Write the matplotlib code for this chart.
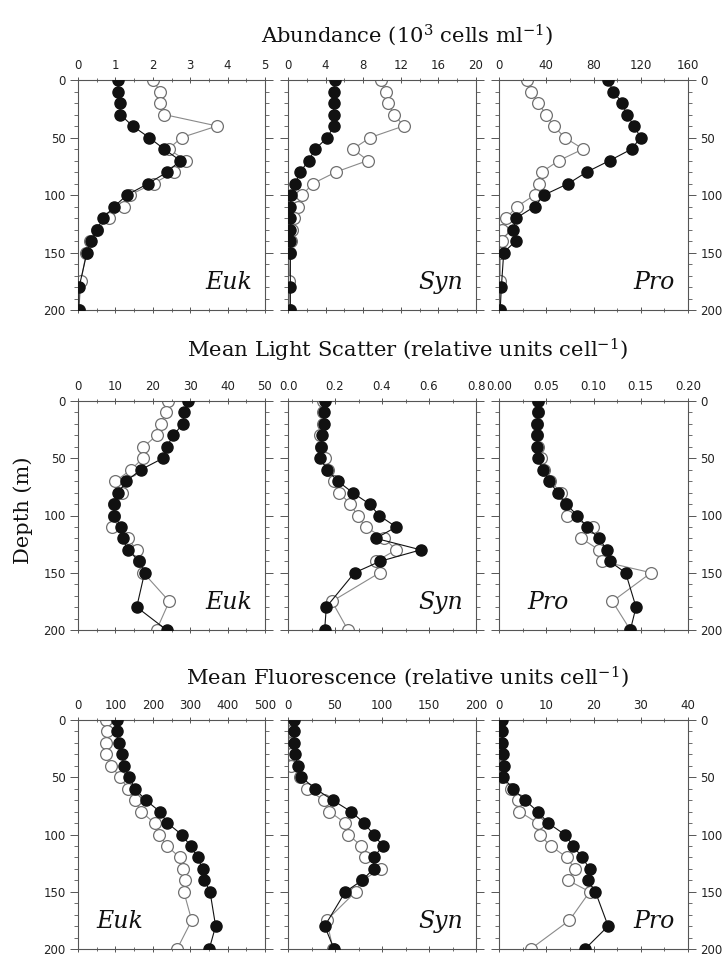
import numpy as np
import matplotlib
matplotlib.use("Agg")
import matplotlib.pyplot as plt
from matplotlib.ticker import MultipleLocator

plt.rcParams["mathtext.fontset"] = "dejavuserif"

# Sampling depths (m) for the two casts
depth_filled = [0, 10, 20, 30, 40, 50, 60, 70, 80, 90, 100, 110, 120, 130, 140, 150, 180, 200]
depth_open = [0, 10, 20, 30, 40, 50, 60, 70, 80, 90, 100, 110, 120, 130, 140, 150, 175, 200]

# Abundance (10^3 cells/ml)
abund_euk_filled = [1.06, 1.08, 1.13, 1.13, 1.46, 1.9, 2.3, 2.73, 2.39, 1.88, 1.31, 0.97, 0.67, 0.51, 0.35, 0.24, 0.03, 0.02]
abund_euk_open = [2.0, 2.2, 2.18, 2.3, 3.72, 2.77, 2.42, 2.88, 2.57, 2.02, 1.38, 1.24, 0.84, 0.5, 0.33, 0.22, 0.08, 0.02]
abund_syn_filled = [5.0, 4.86, 4.86, 4.86, 4.86, 4.2, 2.9, 2.2, 1.3, 0.78, 0.35, 0.25, 0.25, 0.25, 0.25, 0.25, 0.25, 0.25]
abund_syn_open = [9.93, 10.4, 10.6, 11.3, 12.3, 8.76, 6.9, 8.5, 5.1, 2.66, 1.5, 1.06, 0.67, 0.4, 0.3, 0.25, 0.15, 0.2]
abund_pro_filled = [92.4, 96.6, 104.5, 108, 114.4, 119.8, 112.4, 93.8, 74.3, 58.8, 38.1, 30.2, 14.7, 11.9, 14.1, 4, 2, 1]
abund_pro_open = [23.7, 27.4, 33, 40, 46.3, 55.6, 71.2, 50.8, 36.2, 33.8, 30.2, 15.3, 6.2, 2.8, 2.5, 1, 1, 0.5]

# Mean light scatter (relative units/cell)
scat_euk_filled = [29.5, 28.4, 28, 25.5, 23.7, 22.7, 16.8, 12.9, 10.8, 9.5, 9.7, 11.5, 11.9, 13.3, 16.4, 17.8, 15.7, 23.7]
scat_euk_open = [24, 23.6, 22.1, 21.1, 17.5, 17.3, 14.2, 10, 11.8, 9.6, 9.6, 9.2, 13.3, 15.7, 16.2, 17.5, 24.4, 21]
scat_syn_filled = [0.156, 0.152, 0.152, 0.144, 0.14, 0.137, 0.166, 0.212, 0.275, 0.347, 0.388, 0.46, 0.374, 0.565, 0.392, 0.283, 0.163, 0.156]
scat_syn_open = [0.15, 0.15, 0.15, 0.137, 0.14, 0.159, 0.169, 0.194, 0.218, 0.265, 0.296, 0.33, 0.41, 0.46, 0.375, 0.39, 0.187, 0.255]
scat_pro_filled = [0.0413, 0.0413, 0.040, 0.040, 0.0405, 0.041, 0.047, 0.053, 0.062, 0.071, 0.083, 0.093, 0.106, 0.114, 0.117, 0.134, 0.145, 0.139]
scat_pro_open = [0.041, 0.041, 0.040, 0.040, 0.041, 0.044, 0.048, 0.054, 0.066, 0.071, 0.072, 0.099, 0.087, 0.106, 0.109, 0.161, 0.12, 0.139]

# Mean fluorescence (relative units/cell)
fluo_euk_filled = [103, 103, 109, 118, 122, 137, 152, 181, 219, 239, 277, 301, 320, 333, 338, 353, 368, 351]
fluo_euk_open = [76, 78, 76, 76, 89, 112, 134, 152, 168, 205, 217, 238, 272, 281, 287, 283, 304, 265]
fluo_syn_filled = [6.7, 6.7, 6.7, 7.8, 10.3, 14.2, 29, 47.5, 67, 81, 91, 101, 91, 91, 79, 61, 39, 49]
fluo_syn_open = [2.5, 3, 3, 3, 3, 13, 20, 38, 44, 61, 64, 78, 82, 99, 79, 72, 41, 48]
fluo_pro_filled = [0.7, 0.7, 0.7, 0.9, 1.1, 0.9, 2.9, 5.5, 8.2, 10.4, 13.9, 15.7, 17.6, 19.2, 18.8, 20.4, 23.1, 18.2]
fluo_pro_open = [0.5, 0.5, 0.5, 0.6, 0.7, 0.6, 2.5, 4.1, 4.3, 8.2, 8.6, 10.9, 14.4, 16, 14.6, 19.2, 14.9, 6.7]

groups = ["Euk", "Syn", "Pro"]
depth_ticks = [0, 50, 100, 150, 200]

rows = [
    {
        "title": r"Abundance (10$^{3}$ cells ml$^{-1}$)",
        "filled": [abund_euk_filled, abund_syn_filled, abund_pro_filled],
        "open": [abund_euk_open, abund_syn_open, abund_pro_open],
        "xticks": [[0, 1, 2, 3, 4, 5], [0, 4, 8, 12, 16, 20], [0, 40, 80, 120, 160]],
        "xlabels": [["0", "1", "2", "3", "4", "5"], ["0", "4", "8", "12", "16", "20"],
                    ["0", "40", "80", "120", "160"]],
        "tag_pos": [(0.93, 0.07, "right"), (0.93, 0.07, "right"), (0.93, 0.07, "right")],
    },
    {
        "title": r"Mean Light Scatter (relative units cell$^{-1}$)",
        "filled": [scat_euk_filled, scat_syn_filled, scat_pro_filled],
        "open": [scat_euk_open, scat_syn_open, scat_pro_open],
        "xticks": [[0, 10, 20, 30, 40, 50], [0.0, 0.2, 0.4, 0.6, 0.8], [0.0, 0.05, 0.10, 0.15, 0.20]],
        "xlabels": [["0", "10", "20", "30", "40", "50"], ["0.0", "0.2", "0.4", "0.6", "0.8"],
                    ["0.00", "0.05", "0.10", "0.15", "0.20"]],
        "tag_pos": [(0.93, 0.07, "right"), (0.93, 0.07, "right"), (0.15, 0.07, "left")],
    },
    {
        "title": r"Mean Fluorescence (relative units cell$^{-1}$)",
        "filled": [fluo_euk_filled, fluo_syn_filled, fluo_pro_filled],
        "open": [fluo_euk_open, fluo_syn_open, fluo_pro_open],
        "xticks": [[0, 100, 200, 300, 400, 500], [0, 50, 100, 150, 200], [0, 10, 20, 30, 40]],
        "xlabels": [["0", "100", "200", "300", "400", "500"], ["0", "50", "100", "150", "200"],
                    ["0", "10", "20", "30", "40"]],
        "tag_pos": [(0.10, 0.07, "left"), (0.93, 0.07, "right"), (0.93, 0.07, "right")],
    },
]

W, H = 727, 958
fig = plt.figure(figsize=(W / 100, H / 100), dpi=100)

col_px = [(78, 265), (288, 476), (499, 688)]
row_px = [(80, 310), (401, 630), (720, 949)]
title_y = [35, 350, 677]

serif = ["DejaVu Serif"]
spine_col = "#555555"
text_col = "#222222"

for r, row in enumerate(rows):
    top, bot = row_px[r]
    fig.text(407 / W, 1 - title_y[r] / H, row["title"], ha="center", va="center",
             fontsize=15.2, family=serif, color="#111111")
    for c in range(3):
        x0, x1 = col_px[c]
        ax = fig.add_axes([x0 / W, 1 - bot / H, (x1 - x0) / W, (bot - top) / H])
        xt = row["xticks"][c]
        ax.set_xlim(xt[0], xt[-1])
        ax.set_ylim(200, 0)

        ax.plot(row["open"][c], depth_open, "-o", color="#8a8a8a", lw=0.8,
                mfc="white", mec="#707070", mew=0.9, ms=8.5, zorder=2)
        ax.plot(row["filled"][c], depth_filled, "-o", color="#111111", lw=0.8,
                mfc="#111111", mec="#111111", ms=8, zorder=3)

        ax.set_xticks(xt)
        ax.set_xticklabels(row["xlabels"][c])
        ax.xaxis.set_minor_locator(MultipleLocator((xt[1] - xt[0]) / 2))
        ax.set_yticks(depth_ticks)
        ax.yaxis.set_minor_locator(MultipleLocator(10))
        ax.tick_params(axis="x", which="both", top=True, bottom=True,
                       labeltop=True, labelbottom=False, direction="inout",
                       colors=spine_col, labelcolor=text_col, labelsize=8.5, pad=3)
        ax.tick_params(axis="x", which="major", length=5, width=0.7)
        ax.tick_params(axis="x", which="minor", length=3, width=0.6)
        ax.tick_params(axis="y", which="both", left=True, right=True,
                       labelleft=(c == 0), labelright=(c == 2), direction="out",
                       colors=spine_col, labelcolor=text_col, labelsize=8.5, pad=3)
        ax.tick_params(axis="y", which="major", length=6, width=0.7)
        ax.tick_params(axis="y", which="minor", length=3, width=0.6)
        for s in ax.spines.values():
            s.set_color(spine_col)
            s.set_linewidth(0.8)

        tx, ty, tha = row["tag_pos"][c]
        ax.text(tx, ty, groups[c], transform=ax.transAxes, ha=tha, va="bottom",
                fontsize=17, family=serif, style="italic", color="#111111")

fig.text(23 / W, 1 - 510 / H, "Depth (m)", rotation=90, ha="center", va="center",
         fontsize=15, family=serif, color="#111111")

fig.savefig("out.png", dpi=100, facecolor="white")
